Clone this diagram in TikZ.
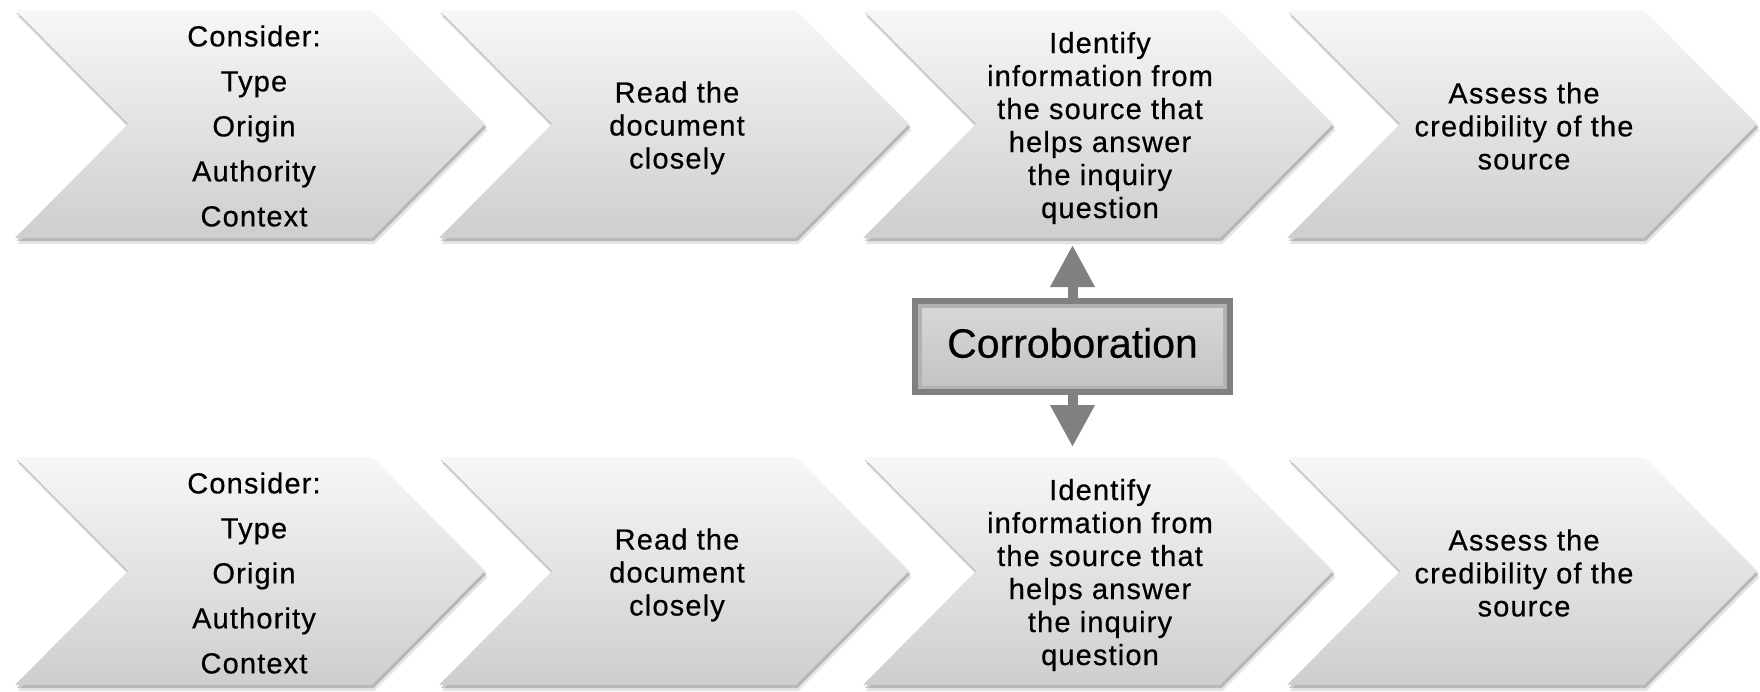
\documentclass[tikz,border=0pt]{standalone}
\usepackage{fontspec}
\setmainfont{Liberation Sans}
\usetikzlibrary{arrows.meta,calc}
\definecolor{arrowgray}{RGB}{128,128,128}
\definecolor{chevtop}{RGB}{247,247,247}
\definecolor{chevbot}{RGB}{206,206,206}
\definecolor{boxlight}{RGB}{178,178,178}
\definecolor{boxtop}{RGB}{215,215,215}
\definecolor{boxbot}{RGB}{196,196,196}
\tikzset{
  chevshape/.style={top color=chevtop, bottom color=chevbot, draw=none},
  pics/chevron/.style={code={
    \fill[black,opacity=0.10,shift={(2.5,6)}] (0,0) -- (357,0) -- (470,114) -- (357,228) -- (0,228) -- (113,114) -- cycle;
    \fill[black,opacity=0.20,shift={(1.5,3)}] (0,0) -- (357,0) -- (470,114) -- (357,228) -- (0,228) -- (113,114) -- cycle;
    \shade[chevshape] (0,0) -- (357,0) -- (470,114) -- (357,228) -- (0,228) -- (113,114) -- cycle;
  }},
  chevtext/.style={align=center, inner sep=0pt,
    font=\fontsize{14.5}{16.5}\selectfont\addfontfeatures{LetterSpace=4,FakeBold=0.5}},
  listtext/.style={chevtext,
    font=\fontsize{14.5}{22.5}\selectfont\addfontfeatures{LetterSpace=4,FakeBold=0.5}},
  corrbox/.style={fill=arrowgray, minimum width=160.5pt, minimum height=48.5pt,
    inner sep=0pt, outer sep=0pt},
  corrtext/.style={inner sep=0pt, font=\fontsize{20.5}{24}\selectfont\addfontfeatures{FakeBold=0.4}},
  corrarrow/.style={draw=arrowgray, line width=5pt,
    -{Triangle[width=21pt,length=21pt,fill=arrowgray]}},
}
\begin{document}
\begin{tikzpicture}[x=0.5pt,y=-0.5pt]
\useasboundingbox (0,0) rectangle (1760,691);
\fill[white] (0,0) rectangle (1760,691);

% top row
\pic at (15,10) {chevron};
\pic at (439,10) {chevron};
\pic at (863,10) {chevron};
\pic at (1287,10) {chevron};
% bottom row
\pic at (15,457) {chevron};
\pic at (439,457) {chevron};
\pic at (863,457) {chevron};
\pic at (1287,457) {chevron};

\node[listtext] (t1) at (254,126) {Consider:\\Type\\Origin\\Authority\\Context};
\node[chevtext] (t2) at (677,128) {Read the\\document\\closely};
\node[chevtext] (t3) at (1100,128) {Identify\\information from\\the source that\\helps answer\\the inquiry\\question};
\node[chevtext] (t4) at (1524,126) {Assess the\\credibility of the\\source};

\node[listtext] (b1) at (254,573) {Consider:\\Type\\Origin\\Authority\\Context};
\node[chevtext] (b2) at (677,575) {Read the\\document\\closely};
\node[chevtext] (b3) at (1100,575) {Identify\\information from\\the source that\\helps answer\\the inquiry\\question};
\node[chevtext] (b4) at (1524,573) {Assess the\\credibility of the\\source};

% corroboration box
\node[corrbox] (corr) at (1072.5,346.5) {};
\fill[boxlight] ($(corr.north west)+(6,6)$) rectangle ($(corr.south east)+(-6,-6)$);
\shade[top color=boxtop, bottom color=boxbot] ($(corr.north west)+(10,10)$) rectangle ($(corr.south east)+(-10,-10)$);
\node[corrtext] (corrlabel) at (1072.5,343) {Corroboration};

\coordinate (upTip) at (1072.5,245);
\coordinate (downTip) at (1072.5,447);
\draw[corrarrow] (corr.north) -- (upTip);
\draw[corrarrow] (corr.south) -- (downTip);
\end{tikzpicture}
\end{document}
